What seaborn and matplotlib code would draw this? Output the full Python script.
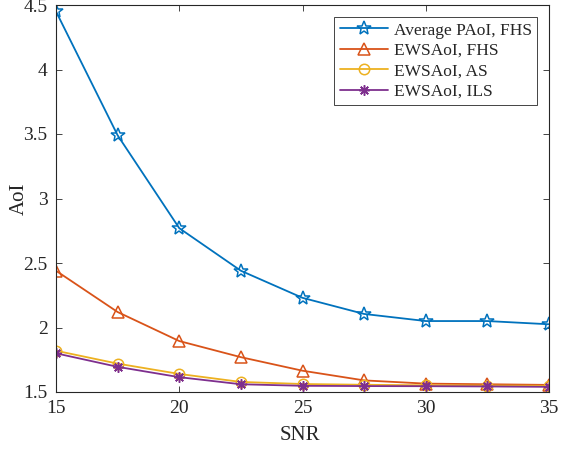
import numpy as np
import pandas as pd
import matplotlib
matplotlib.use("Agg")
import matplotlib.pyplot as plt
import seaborn as sns

snr = [15, 17.5, 20, 22.5, 25, 27.5, 30, 32.5, 35]
paoi_fhs = [4.45, 3.49, 2.77, 2.44, 2.23, 2.105, 2.05, 2.05, 2.025]
ewsaoi_fhs = [2.44, 2.12, 1.895, 1.77, 1.665, 1.59, 1.565, 1.56, 1.555]
ewsaoi_as = [1.82, 1.72, 1.64, 1.578, 1.562, 1.556, 1.552, 1.55, 1.548]
ewsaoi_ils = [1.80, 1.695, 1.615, 1.56, 1.548, 1.546, 1.545, 1.543, 1.54]

labels = ["Average PAoI, FHS", "EWSAoI, FHS", "EWSAoI, AS", "EWSAoI, ILS"]
series = [paoi_fhs, ewsaoi_fhs, ewsaoi_as, ewsaoi_ils]
colors = ["#0072BD", "#D95319", "#EDB120", "#7E2F8E"]
markers = ["*", "^", "o", (8, 2, 0)]
msizes = [10, 9, 7.5, 7.5]

sns.set_style("ticks")
plt.rcParams["font.family"] = ["Liberation Serif", "DejaVu Serif"]

fig = plt.figure(figsize=(5.74, 4.51), dpi=100)
ax = fig.add_axes([56 / 574, 1 - 392 / 451, (549 - 56) / 574, (392 - 5) / 451])

for lab, vals, c, m, ms in zip(labels, series, colors, markers, msizes):
    df = pd.DataFrame({"SNR": snr, "AoI": vals})
    sns.lineplot(data=df, x="SNR", y="AoI", ax=ax, color=c, marker=m,
                 markersize=ms, markerfacecolor="none", markeredgecolor=c,
                 markeredgewidth=1.1, linewidth=1.3, label=lab, legend=False)

ax.set_xlim(15, 35)
ax.set_ylim(1.5, 4.5)
ax.set_xticks([15, 20, 25, 30, 35])
ax.set_yticks([1.5, 2, 2.5, 3, 3.5, 4, 4.5])
ax.set_yticklabels(["1.5", "2", "2.5", "3", "3.5", "4", "4.5"])
ax.tick_params(direction="in", length=4, width=0.6, labelsize=14, pad=6,
               top=True, right=True, colors="#262626", labelcolor="#262626")
for s in ax.spines.values():
    s.set_visible(True)
    s.set_linewidth(0.8)
    s.set_color("#262626")
ax.set_xlabel("SNR", fontsize=15, color="#262626")
ax.set_ylabel("AoI", fontsize=15, color="#262626")
ax.xaxis.set_label_coords(0.495, -0.088)
ax.yaxis.set_label_coords(-0.055, 0.5)

leg = ax.legend(loc="upper right", fontsize=12.5, frameon=True, fancybox=False,
                edgecolor="#262626", framealpha=1, borderpad=0.3,
                labelspacing=0.25, handlelength=2.8, handletextpad=0.3,
                borderaxespad=0.7)
leg.get_frame().set_linewidth(0.6)

fig.savefig("out.png", dpi=100)
